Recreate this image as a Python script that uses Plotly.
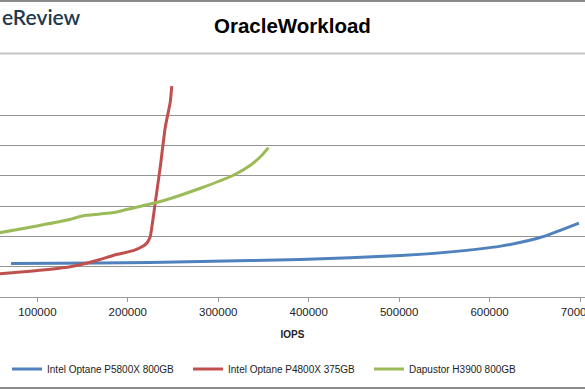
import plotly.graph_objects as go

# ---- data ----
p5800_iops = [70900, 169400, 280200, 390900, 501700, 557000, 612400, 645600, 660000, 678900, 698800]
p5800_lat = [0.111, 0.112, 0.117, 0.124, 0.137, 0.149, 0.168, 0.188, 0.200, 0.221, 0.244]

p4800_iops = [50000, 95200, 132900, 150600, 169400, 188300, 206000, 217100, 221500, 224800,
              230300, 235900, 241400, 247000, 248600]
p4800_lat = [0.075, 0.086, 0.098, 0.109, 0.124, 0.141, 0.153, 0.168, 0.180, 0.200,
             0.310, 0.430, 0.560, 0.645, 0.696]

h3900_iops = [50000, 95200, 132900, 150600, 169400, 188300, 206000, 224800, 243600, 280200,
              316700, 335600, 346600, 355500]
h3900_lat = [0.208, 0.232, 0.254, 0.268, 0.274, 0.281, 0.294, 0.307, 0.322, 0.359,
             0.402, 0.435, 0.463, 0.493]

series_names = ["Intel Optane P5800X 800GB", "Intel Optane P4800X 375GB", "Dapustor H3900 800GB"]
x_ticks = [100000, 200000, 300000, 400000, 500000, 600000, 700000]
title_text = "OracleWorkload"
x_title = "IOPS"
logo_text = "eReview"

colors = ["#4F81BD", "#C0504D", "#9BBB59"]

fig = go.Figure()
for xs, ys, name, col in zip([p5800_iops, p4800_iops, h3900_iops],
                             [p5800_lat, p4800_lat, h3900_lat],
                             series_names, colors):
    fig.add_trace(go.Scatter(x=xs, y=ys, mode="lines", name=name,
                             line=dict(color=col, width=3, shape="spline", smoothing=0.5)))

font_fam = "Liberation Sans, Arial, sans-serif"

fig.update_layout(
    width=585, height=390,
    margin=dict(l=0, r=0, t=85, b=93, autoexpand=False),
    paper_bgcolor="white", plot_bgcolor="white",
    showlegend=True,
    legend=dict(orientation="h", x=0.012, xanchor="left", y=-0.34, yanchor="middle",
                font=dict(family=font_fam, size=10, color="#222"),
                entrywidth=136, entrywidthmode="pixels",
                bgcolor="rgba(0,0,0,0)"),
    xaxis=dict(range=[58700, 705500], tickvals=x_ticks, ticktext=[str(v) for v in x_ticks],
               ticks="outside", ticklen=4, tickcolor="#999", showline=True, linecolor="#999",
               linewidth=1, showgrid=False, zeroline=False, ticklabeloverflow="allow",
               automargin=False,
               tickfont=dict(family=font_fam, size=11.5, color="#222"),
               title=dict(text="<b>" + x_title + "</b>", font=dict(family=font_fam, size=10, color="#222"),
                          standoff=14)),
    yaxis=dict(range=[0, 0.7], dtick=0.1, showticklabels=False, showgrid=True, automargin=False,
               gridcolor="#959595", gridwidth=1, zeroline=False, showline=False),
    annotations=[
        dict(text="<b>" + title_text + "</b>", xref="paper", yref="paper", x=0.5, y=1,
             yshift=60, xanchor="center", yanchor="middle", showarrow=False,
             font=dict(family=font_fam, size=20.5, color="#000")),
        dict(text=logo_text, xref="paper", yref="paper", x=0, y=1, yshift=69,
             xanchor="left", yanchor="middle", showarrow=False,
             font=dict(family="Lato, sans-serif", size=21, color="#1e3a4c", weight=600)),
    ],
)
# decorative frame lines: header divider, top and bottom frame
fig.add_shape(type="line", xref="paper", yref="paper", x0=0, x1=1,
              ysizemode="pixel", yanchor=1, y0=31.5, y1=31.5, line=dict(color="#c4c4c4", width=2))
fig.add_shape(type="line", xref="paper", yref="paper", x0=0, x1=1,
              ysizemode="pixel", yanchor=1, y0=84, y1=84, line=dict(color="#8a8a8a", width=2))
fig.add_shape(type="line", xref="paper", yref="paper", x0=0, x1=1,
              ysizemode="pixel", yanchor=0, y0=-91, y1=-91, line=dict(color="#8a8a8a", width=2))

fig.write_html("out.html")
